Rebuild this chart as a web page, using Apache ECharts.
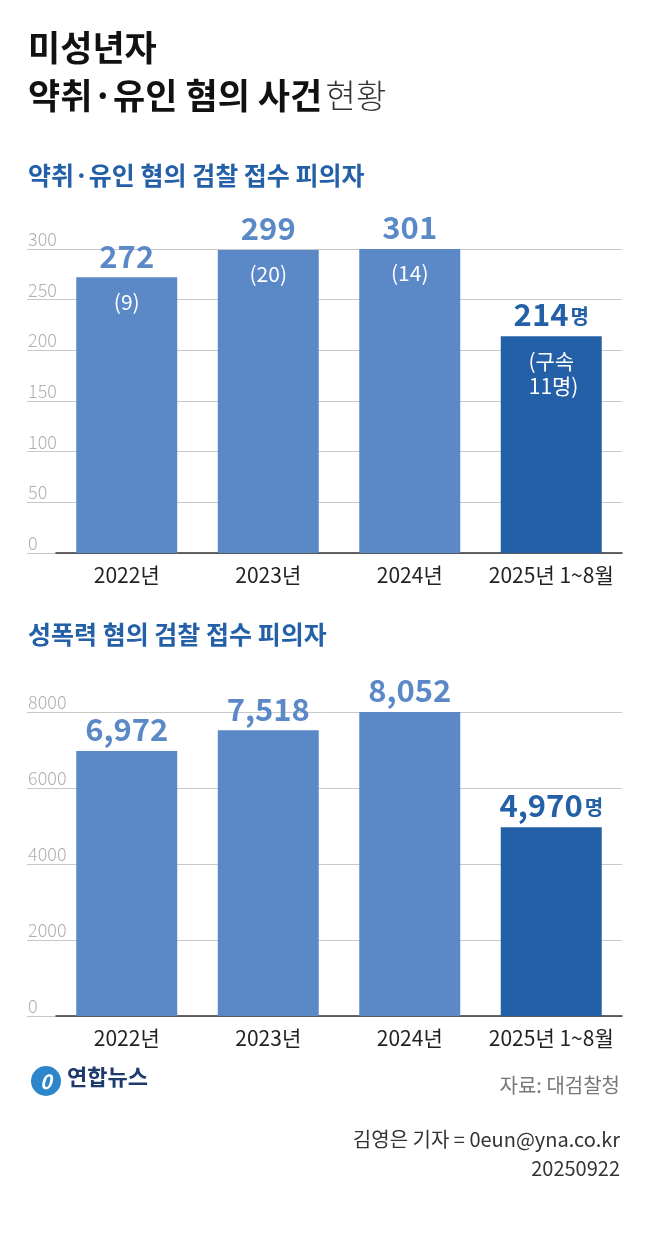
<!DOCTYPE html><html><head><meta charset="utf-8"><script src="https://cdn.jsdelivr.net/npm/echarts@6/dist/echarts.min.js"></script>
<style>body{margin:0;background:#fff}#c{width:650px;height:1244px}</style></head><body><div id="c"></div><script>
const categories=['2022년','2023년','2024년','2025년 1~8월'];
const kidnap=[272,299,301,214];
const kidnapArrest=['(9)','(20)','(14)','(구속\n 11명)'];
const sexual=[6972,7518,8052,4970];
const kidnapTicks=[0,50,100,150,200,250,300];
const sexualTicks=[0,2000,4000,6000,8000];
const F='"Noto Sans CJK KR","Noto Sans",sans-serif';
const light='#5b89c8',dark='#2460a7';
const col=i=>i===3?dark:light;
const c=echarts.init(document.getElementById('c'));
function grids(top,h){return [{left:27,right:28,top:top,height:h},{left:56,right:28,top:top,height:h}];}
const g=[...grids(249,304),...grids(712,304)];
function yA(gi,max,interval,show){return {type:'value',gridIndex:gi,min:0,max:max,interval:interval,show:true,
 axisLine:{show:false},axisTick:{show:false},
 axisLabel:{show:show,inside:true,align:'left',verticalAlign:'bottom',margin:0,color:'#b0b0b0',fontFamily:F,fontWeight:300,fontSize:18,padding:[0,0,1,1],formatter:v=>String(v)},
 splitLine:{show:show,lineStyle:{color:'#c8c8c8',width:1}}};}
function xA(gi,show){return {type:'category',gridIndex:gi,data:categories,show:true,
 axisLine:{show:show,lineStyle:{color:'#333',width:1.5}},axisTick:{show:false},
 axisLabel:{show:show,interval:0,color:'#222',fontFamily:F,fontSize:21,margin:12}};}
function fmt(v){return v.toLocaleString('en-US');}
function valSeries(x,y,data){return {type:'bar',xAxisIndex:x,yAxisIndex:y,barWidth:101,
 data:data.map((v,i)=>({value:v,itemStyle:{color:col(i)},label:{color:col(i)}})),
 label:{show:true,position:'top',distance:6,fontFamily:F,fontWeight:'bold',fontSize:31,
 formatter:p=>p.dataIndex===3?'{a|'+fmt(p.value)+'}{b|명}':fmt(p.value),
 rich:{a:{fontFamily:F,fontWeight:'bold',fontSize:31,color:dark},b:{fontFamily:F,fontWeight:'bold',fontSize:20,color:dark,padding:[4,0,0,2]}}}};}
c.setOption({
 grid:g,
 xAxis:[xA(0,false),xA(1,true),xA(2,false),xA(3,true)],
 yAxis:[yA(0,300,50,true),yA(1,300,50,false),yA(2,8000,2000,true),yA(3,8000,2000,false)],
 series:[valSeries(1,1,kidnap),
 {type:'bar',xAxisIndex:1,yAxisIndex:1,barWidth:101,barGap:'-100%',itemStyle:{color:'rgba(0,0,0,0)'},
  data:kidnap,label:{show:true,position:'insideTop',distance:12,color:'#fff',fontFamily:F,fontSize:21,lineHeight:25,formatter:p=>kidnapArrest[p.dataIndex]}},
 valSeries(3,3,sexual)],
 graphic:[
  {type:'text',left:28,top:30,style:{text:'미성년자',font:'bold 35px '+F,fill:'#111'}},
  {type:'text',left:28,top:78,style:{text:'{a|약취·유인 혐의 사건} {b|현황}',rich:{a:{font:'bold 35px '+F,fill:'#111'},b:{font:'300 33px '+F,fill:'#333'}}}},
  {type:'text',left:28,top:163,style:{text:'약취·유인 혐의 검찰 접수 피의자',font:'bold 25px '+F,fill:'#2460a7'}},
  {type:'text',left:28,top:622,style:{text:'성폭력 혐의 검찰 접수 피의자',font:'bold 25px '+F,fill:'#2460a7'}},
  {type:'circle',shape:{cx:46,cy:1081,r:15},style:{fill:'#2d86c9'}},
  {type:'text',x:46,y:1081,style:{text:'0',font:'italic bold 20px '+F,fill:'#fff',align:'center',verticalAlign:'middle'}},
  {type:'text',left:67,top:1066,style:{text:'연합뉴스',font:'bold 22px '+F,fill:'#1d3a6b'}},
  {type:'text',right:30,top:1075,style:{text:'자료: 대검찰청',font:'20px '+F,fill:'#777',align:'right'}},
  {type:'text',right:30,top:1129,style:{text:'김영은 기자 = 0eun@yna.co.kr',font:'20px '+F,fill:'#333',align:'right'}},
  {type:'text',right:30,top:1158,style:{text:'20250922',font:'20px '+F,fill:'#333',align:'right'}}
 ]
});
</script></body></html>
